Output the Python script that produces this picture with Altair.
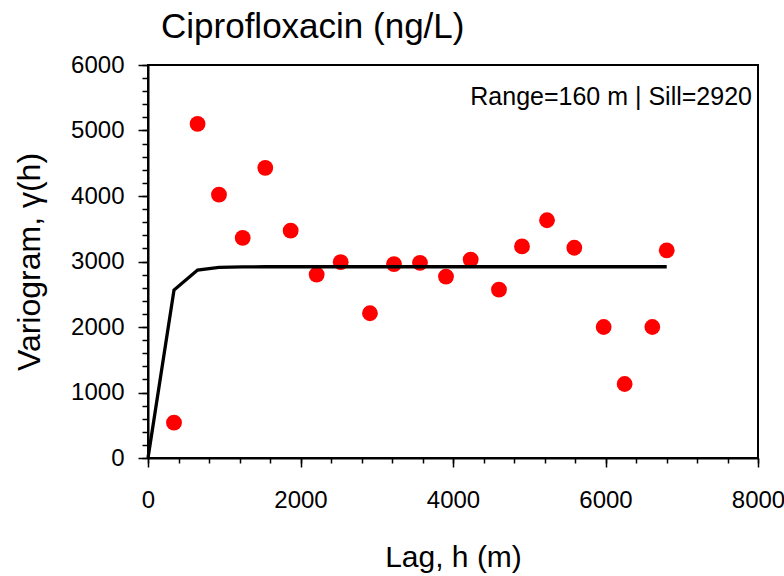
import altair as alt
import pandas as pd

# ---- data ----
lag = [341, 650, 931, 1242, 1538, 1871, 2212, 2527, 2911, 3226, 3567,
       3908, 4232, 4603, 4905, 5233, 5591, 5976, 6251, 6614, 6803]
gamma = [540, 5100, 4020, 3360, 4430, 3470, 2800, 2990, 2210, 2960, 2980,
         2770, 3030, 2570, 3230, 3630, 3210, 2000, 1130, 2000, 3170]

model_lag = [0, 341, 650, 931, 1242, 1538, 1871, 2212, 2527, 2911, 3226, 3567,
             3908, 4232, 4603, 4905, 5233, 5591, 5976, 6251, 6614, 6803]
model_gamma = [0, 2565, 2870, 2911, 2918, 2920, 2920, 2920, 2920, 2920, 2920, 2920,
               2920, 2920, 2920, 2920, 2920, 2920, 2920, 2920, 2920, 2920]

title_text = "Ciprofloxacin (ng/L)"
x_title = "Lag, h (m)"
y_title = "Variogram, \u03b3(h)"
note_text = ["Range=160 m | Sill=2920"]

x_major = [0, 2000, 4000, 6000, 8000]
x_minor = list(range(0, 8001, 400))
y_major = [0, 1000, 2000, 3000, 4000, 5000, 6000]
y_minor = list(range(0, 6001, 200))

FONT = "Liberation Sans"

pts = pd.DataFrame({"lag": lag, "gamma": gamma})
mdl = pd.DataFrame({"lag": model_lag, "gamma": model_gamma})
note = pd.DataFrame({"t": note_text})

xscale = alt.Scale(domain=[0, 8000], nice=False)
yscale = alt.Scale(domain=[0, 6000], nice=False)

x_major_axis = alt.Axis(values=x_major, format="d", tickSize=9, labelPadding=21,
                        labelFlush=False, labelOverlap=False, title=x_title,
                        titlePadding=30, grid=False, orient="bottom")
y_major_axis = alt.Axis(values=y_major, format="d", tickSize=10, labelPadding=14,
                        labelOverlap=False, title=y_title, titlePadding=24,
                        titleFontSize=32, grid=False, orient="left")
x_minor_axis = alt.Axis(values=x_minor, tickSize=5, labels=False, title=None,
                        grid=False, domain=False, orient="bottom")
y_minor_axis = alt.Axis(values=y_minor, tickSize=6, labels=False, title=None,
                        grid=False, domain=False, orient="left")

points = alt.Chart(pts).mark_circle(color="#ff0000", size=250, opacity=1).encode(
    x=alt.X("lag:Q", scale=xscale, axis=x_major_axis),
    y=alt.Y("gamma:Q", scale=yscale, axis=y_major_axis),
)

line = alt.Chart(mdl).mark_line(color="black", strokeWidth=3.3).encode(
    x=alt.X("lag:Q", scale=xscale, axis=x_minor_axis),
    y=alt.Y("gamma:Q", scale=yscale, axis=y_minor_axis),
)

text = alt.Chart(note).mark_text(
    font=FONT, fontSize=25, align="right", baseline="middle", color="black"
).encode(
    x=alt.value(604), y=alt.value(32), text="t:N"
)

chart = alt.layer(points, line, text).resolve_axis(
    x="independent", y="independent"
).properties(
    width=610,
    height=393,
    background="white",
    autosize=alt.AutoSizeParams(type="none"),
    padding={"left": 148, "top": 65, "right": 26, "bottom": 118},
    title=alt.TitleParams(title_text, anchor="start", frame="group", dx=13,
                          fontSize=35, font=FONT, fontWeight="normal",
                          color="black", offset=8),
).configure_view(
    stroke="black", strokeWidth=2
).configure_axis(
    domainColor="black", domainWidth=2, tickColor="black", tickWidth=1.5,
    labelFont=FONT, labelFontSize=24, labelColor="black",
    titleFont=FONT, titleFontSize=30, titleFontWeight="normal", titleColor="black",
)

chart.save("out.html", embed_options={"renderer": "svg", "actions": False})
